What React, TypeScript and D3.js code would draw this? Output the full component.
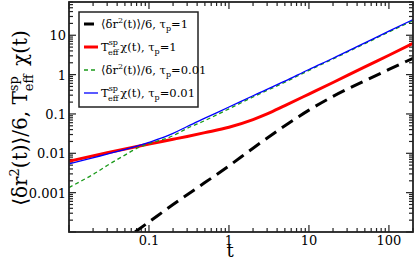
import React from "react";
import * as d3 from "d3";

const W = 415, H = 262;
const M = { left: 69, right: 413, top: 2, bottom: 232 };

const xDomain = [0.01, 200];
const yDomain = [1e-4, 70];

const xTickVals = [0.1, 1, 10, 100];
const xTickLabels = ["0.1", "1", "10", "100"];
const yTickVals = [0.001, 0.01, 0.1, 1, 10];
const yTickLabels = ["0.001", "0.01", "0.1", "1", "10"];

// <dr^2>/6, tau_p = 1 (black dashed)
const tBlack = [0.067, 0.1, 0.2, 0.5, 1, 2, 5, 10, 20, 50, 100, 200];
const vBlack = [1.0e-4, 1.8e-4, 5.0e-4, 1.8e-3, 4.8e-3, 0.0135, 0.05, 0.125, 0.28, 0.7, 1.35, 2.6];

// Teff chi, tau_p = 1 (red)
const tRed = [0.01, 0.03, 0.1, 0.2, 0.3, 0.5, 1, 2, 3, 5, 10, 20, 50, 100, 200];
const vRed = [0.0063, 0.0103, 0.0172, 0.0227, 0.0268, 0.0335, 0.046, 0.072, 0.1, 0.163, 0.32, 0.63, 1.58, 3.1, 6.2];

// <dr^2>/6, tau_p = 0.01 (green dashed)
const tGreen = [0.01, 0.015, 0.02, 0.03, 0.05, 0.077, 0.1, 0.2, 0.3, 0.5, 1, 2, 5, 10, 20, 50, 100, 200];
const vGreen = [0.00135, 0.0021, 0.0029, 0.0049, 0.009, 0.0145, 0.0175, 0.028, 0.043, 0.068, 0.135, 0.27, 0.64, 1.28, 2.5, 6.1, 12.1, 23.5];

// Teff chi, tau_p = 0.01 (blue)
const tBlue = [0.01, 0.03, 0.1, 0.2, 0.3, 0.5, 1, 2, 5, 10, 20, 50, 100, 200];
const vBlue = [0.0054, 0.0095, 0.019, 0.032, 0.048, 0.078, 0.15, 0.29, 0.68, 1.35, 2.6, 6.4, 12.7, 25];

const FONT = "'DejaVu Serif', serif";

export default function App() {
  const x = d3.scaleLog().domain(xDomain).range([M.left, M.right]);
  const y = d3.scaleLog().domain(yDomain).range([M.bottom, M.top]);

  const line = d3
    .line<[number, number]>()
    .x((d) => x(d[0]))
    .y((d) => y(d[1]))
    .curve(d3.curveMonotoneX);

  const mk = (ts: number[], vs: number[]) => line(ts.map((t, i) => [t, vs[i]] as [number, number])) || "";

  const xMinor: number[] = [];
  for (let e = -2; e <= 2; e++) {
    for (let k = 1; k <= 9; k++) {
      const v = k * Math.pow(10, e);
      if (v >= xDomain[0] && v <= xDomain[1]) xMinor.push(v);
    }
  }
  const yMinor: number[] = [];
  for (let e = -4; e <= 1; e++) {
    for (let k = 1; k <= 9; k++) {
      const v = k * Math.pow(10, e);
      if (v >= yDomain[0] && v <= yDomain[1]) yMinor.push(v);
    }
  }
  const isMajor = (v: number) => Math.abs(Math.log10(v) - Math.round(Math.log10(v))) < 1e-9;

  const legendRows = [
    { color: "#000", width: 3, dash: "10,6", kind: "msd", tau: "1" },
    { color: "#ff0000", width: 3, dash: "", kind: "chi", tau: "1" },
    { color: "#1a9a1a", width: 1.3, dash: "4,3", kind: "msd", tau: "0.01" },
    { color: "#0000ff", width: 1.3, dash: "", kind: "chi", tau: "0.01" },
  ];
  const legendY = [24, 47, 70, 93];

  const legendText = (kind: string, tau: string) => {
    if (kind === "msd") {
      return (
        <>
          <tspan>⟨δr</tspan>
          <tspan dy={-5} fontSize={8}>2</tspan>
          <tspan dy={5}>(t)⟩/6, τ</tspan>
          <tspan dy={3} fontSize={8}>p</tspan>
          <tspan dy={-3}>={tau}</tspan>
        </>
      );
    }
    return (
      <>
        <tspan>T</tspan>
        <tspan dy={-6} fontSize={8}>sp</tspan>
        <tspan dx={-10} dy={10} fontSize={8}>eff</tspan>
        <tspan dx={2} dy={-4}>χ(t), τ</tspan>
        <tspan dy={3} fontSize={8}>p</tspan>
        <tspan dy={-3}>={tau}</tspan>
      </>
    );
  };

  return (
    <svg width={W} height={H} style={{ position: "absolute", left: 0, top: 0, background: "#fff" }}>
      <defs>
        <clipPath id="plot">
          <rect x={M.left} y={M.top} width={M.right - M.left} height={M.bottom - M.top} />
        </clipPath>
      </defs>
      <rect width={W} height={H} fill="#fff" />

      <g stroke="#222" strokeWidth={1.2}>
        {xMinor.map((v, i) => {
          const L = isMajor(v) ? 7 : 4;
          const px = x(v);
          return (
            <g key={"xt" + i}>
              <line x1={px} x2={px} y1={M.bottom} y2={M.bottom - L} />
              <line x1={px} x2={px} y1={M.top} y2={M.top + L} />
            </g>
          );
        })}
        {yMinor.map((v, i) => {
          const L = isMajor(v) ? 7 : 4;
          const py = y(v);
          return (
            <g key={"yt" + i}>
              <line x1={M.left} x2={M.left + L} y1={py} y2={py} />
              <line x1={M.right} x2={M.right - L} y1={py} y2={py} />
            </g>
          );
        })}
      </g>

      <g clipPath="url(#plot)" fill="none">
        <path d={mk(tBlack, vBlack)} stroke="#000" strokeWidth={3} strokeDasharray="13,7" />
        <path d={mk(tRed, vRed)} stroke="#ff0000" strokeWidth={3} />
        <path d={mk(tGreen, vGreen)} stroke="#1a9a1a" strokeWidth={1.3} strokeDasharray="4,3" />
        <path d={mk(tBlue, vBlue)} stroke="#0000ff" strokeWidth={1.3} />
      </g>

      <rect x={M.left} y={M.top} width={M.right - M.left} height={M.bottom - M.top} fill="none" stroke="#222" strokeWidth={1.8} />

      <g fontFamily={FONT} fill="#000">
        <g fontSize={13}>
          {xTickVals.map((v, i) => (
            <text key={"xl" + i} x={x(v)} y={M.bottom + 13} textAnchor="middle">
              {xTickLabels[i]}
            </text>
          ))}
          {yTickVals.map((v, i) => (
            <text key={"yl" + i} x={M.left - 3} y={y(v) + 5} textAnchor="end">
              {yTickLabels[i]}
            </text>
          ))}
        </g>

        <text x={230} y={257} fontSize={18} textAnchor="middle">t</text>
        <text transform={`translate(27, 118) rotate(-90)`} fontSize={20} textAnchor="middle">
          <tspan>⟨δr</tspan>
          <tspan dy={-8} fontSize={13}>2</tspan>
          <tspan dy={8}>(t)⟩/6, T</tspan>
          <tspan dy={-9} fontSize={13}>sp</tspan>
          <tspan dx={-15} dy={15} fontSize={13}>eff</tspan>
          <tspan dx={2} dy={-6}> χ(t)</tspan>
        </text>

        <rect x={79} y={12} width={119} height={95} fill="#fff" stroke="#222" strokeWidth={1.5} />
        {legendRows.map((r, i) => (
          <g key={"lg" + i}>
            <line x1={84} x2={98} y1={legendY[i]} y2={legendY[i]} stroke={r.color} strokeWidth={r.width} strokeDasharray={r.dash || undefined} />
            <text x={101} y={legendY[i] + 4} fontSize={11.5}>
              {legendText(r.kind, r.tau)}
            </text>
          </g>
        ))}
      </g>
    </svg>
  );
}
